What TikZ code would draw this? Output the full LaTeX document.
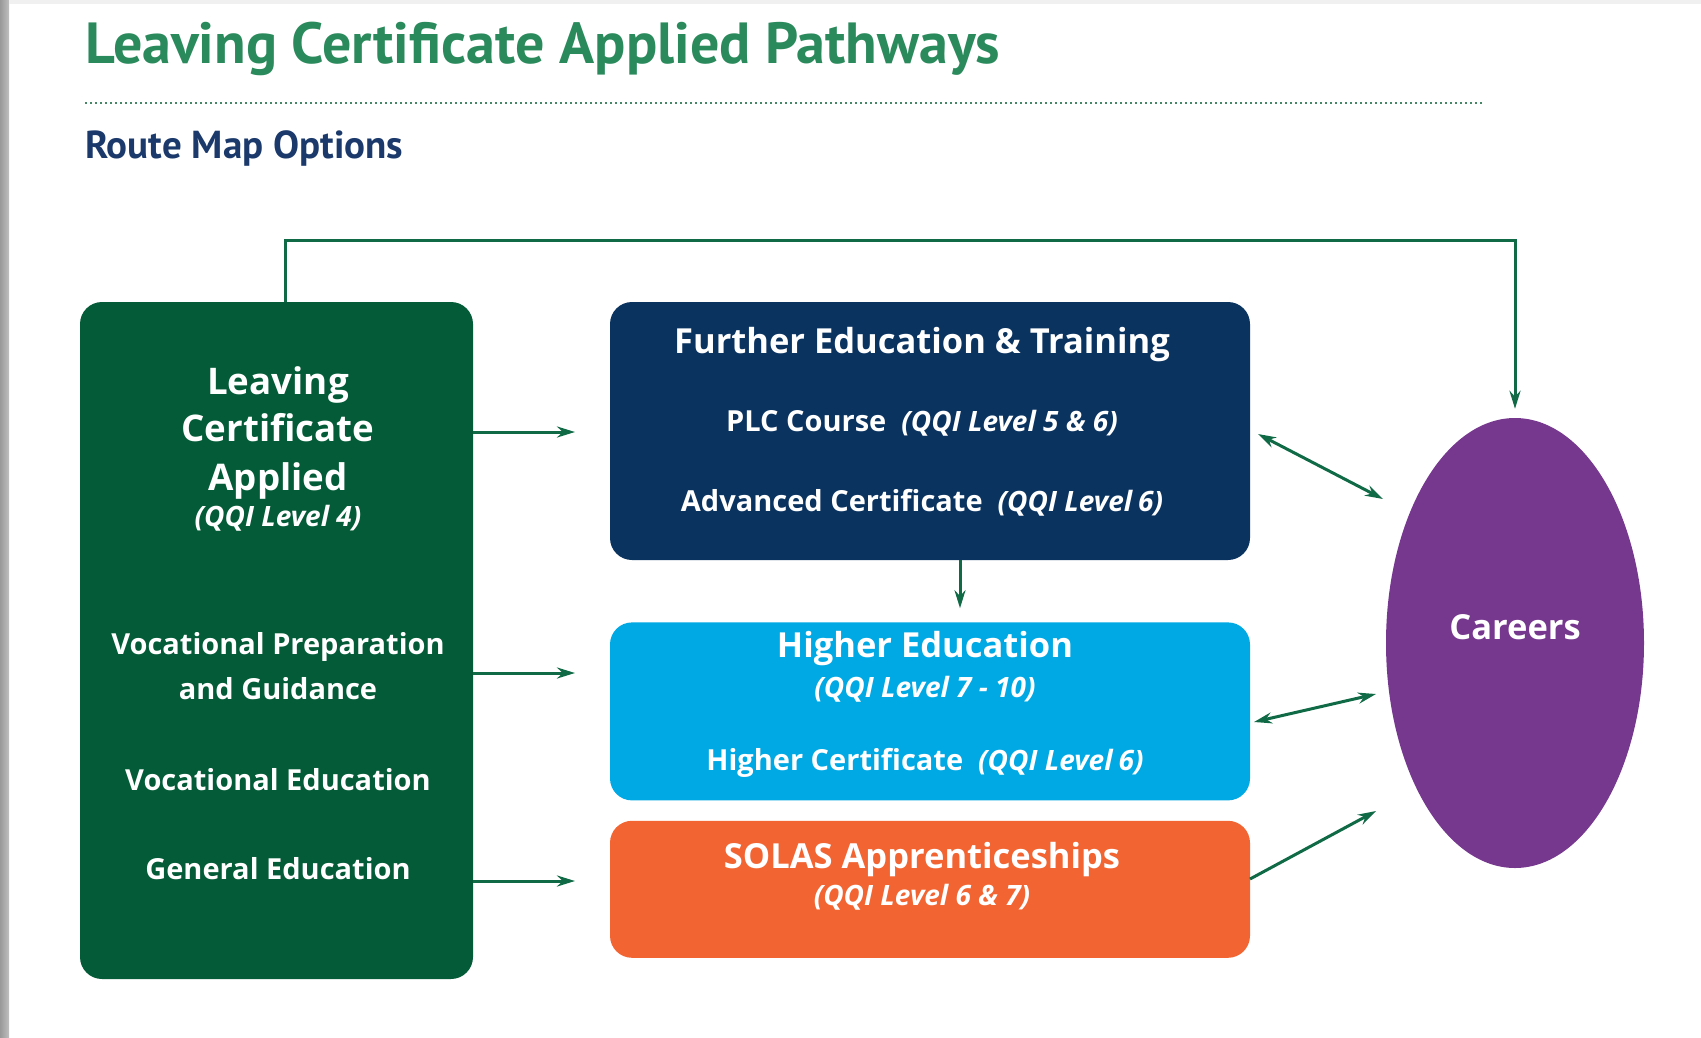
\documentclass[tikz,border=0pt]{standalone}
\usepackage{fontspec}
\setmainfont{Open Sans}
\newfontfamily\headfont{PT Sans}
\usepackage{tikz}
\usetikzlibrary{positioning}
\usetikzlibrary{shapes.geometric, arrows.meta}

\definecolor{titlegreen}{HTML}{2B8A5C}
\definecolor{subnavy}{HTML}{1B3A6B}
\definecolor{lcagreen}{HTML}{035B37}
\definecolor{fetnavy}{HTML}{0B3360}
\definecolor{heblue}{HTML}{00A8E4}
\definecolor{solasorange}{HTML}{F26532}
\definecolor{careerpurple}{HTML}{76378E}
\definecolor{arrowgreen}{HTML}{0F6A45}

\tikzstyle{arrow} = [line width=3pt,draw=arrowgreen,-{Stealth[length=18pt,width=11pt]}]
\tikzstyle{dblarrow} = [line width=3pt,draw=arrowgreen,{Stealth[length=18pt,width=11pt]}-{Stealth[length=18pt,width=11pt]}]
\tikzstyle{box} = [rectangle,rounded corners=22pt,inner sep=0pt,minimum width=640pt]
\tikzstyle{lbl} = [text=white,inner sep=0pt,anchor=base]

\newcommand{\head}{\fontsize{34.5}{40}\selectfont\bfseries}
\newcommand{\sub}{\fontsize{29}{34}\selectfont\bfseries}
\newcommand{\qqi}{\fontsize{28}{32}\selectfont\bfseries\itshape}

\begin{document}
\begin{tikzpicture}[x=1pt,y=-1pt]
	\useasboundingbox (0,0) rectangle (1701,1037);
	\shade[left color=gray!80,right color=gray!50] (0,0) rectangle (9,1037);
	\fill[gray!12] (9,0) rectangle (1701,4);

	%Heading
	\node (title) [anchor=base west,inner sep=0pt,text=titlegreen,font=\headfont\bfseries\fontsize{58}{66}\selectfont] at (85,63) {Leaving Certificate Applied Pathways};
	\coordinate (rulestart) at (85,103);
	\coordinate (ruleend) at (1484,103);
	\draw[titlegreen!70!gray,line width=2pt,dash pattern=on 2pt off 3pt] (rulestart) -- (ruleend);
	\node (routemap) [anchor=base west,inner sep=0pt,text=subnavy,font=\headfont\bfseries\fontsize{39}{44}\selectfont] at (85,158) {Route Map Options};

	%Nodes
	\node (lca) [box,fill=lcagreen,minimum width=393pt,minimum height=677pt] at (276.5,640.5) {};
	\node (fet) [box,fill=fetnavy,minimum height=258pt] at (930,431) {};
	\node (he) [box,fill=heblue,minimum height=178pt,below=62pt of fet] {};
	\node (solas) [box,fill=solasorange,minimum height=137pt,below=20pt of he] {};
	\node (careers) [ellipse,fill=careerpurple,minimum width=258pt,minimum height=450pt,inner sep=0pt] at (1515,643) {};

	%Texts
	\node (lcaa) [lbl,font=\fontsize{36.7}{42}\selectfont\bfseries] at (278,394) {Leaving};
	\node (lcab) [lbl,font=\fontsize{36.7}{42}\selectfont\bfseries] at (278,441) {Certificate};
	\node (lcac) [lbl,font=\fontsize{36.7}{42}\selectfont\bfseries] at (278,490) {Applied};
	\node (lcad) [lbl,font=\qqi] at (278,526) {(QQI Level 4)};
	\node (vpga) [lbl,font=\sub] at (278,654) {Vocational Preparation};
	\node (vpgb) [lbl,font=\sub] at (278,699) {and Guidance};
	\node (voced) [lbl,font=\sub] at (278,790) {Vocational Education};
	\node (gened) [lbl,font=\sub] at (278,879) {General Education};

	\node (feta) [lbl,font=\head] at (922,353) {Further Education \& Training};
	\node (fetb) [lbl,font=\sub] at (922,431) {PLC Course\hspace{15pt}{\qqi(QQI Level 5 \& 6)}};
	\node (fetc) [lbl,font=\sub] at (922,511) {Advanced Certificate\hspace{15pt}{\qqi(QQI Level\hspace{6pt}6)}};

	\node (hea) [lbl,font=\head] at (925,657) {Higher Education};
	\node (heb) [lbl,font=\qqi] at (925,697) {(QQI Level 7 - 10)};
	\node (hec) [lbl,font=\sub] at (925,770) {Higher Certificate\hspace{15pt}{\qqi(QQI Level\hspace{6pt}6)}};

	\node (solasa) [lbl,font=\head] at (922,868) {SOLAS Apprenticeships};
	\node (solasb) [lbl,font=\qqi] at (922,905) {(QQI Level 6 \& 7)};

	\node (careerstxt) [lbl,font=\head] at (1515,639) {Careers};

	%Lines
	\coordinate (a1) at (575,432);
	\coordinate (a2) at (575,673);
	\coordinate (a3) at (575,881);
	\draw[arrow] (lca.east |- a1) -- (a1);
	\draw[arrow] (lca.east |- a2) -- (a2);
	\draw[arrow] (lca.east |- a3) -- (a3);
	\draw[arrow] (lca.north -| 285,0) |- (1515,240) -- (careers.north) [shorten >=9pt];
	\draw[arrow] (fet.south -| 960,0) -- (he.north -| 960,0) [shorten >=14pt];

	\coordinate (b1) at (1258,434);
	\coordinate (c1) at (1383,499);
	\coordinate (b2) at (1254,722);
	\coordinate (c2) at (1376,694);
	\coordinate (b3) at (1250,879);
	\coordinate (c3) at (1376,811);
	\draw[dblarrow] (b1) -- (c1);
	\draw[dblarrow] (b2) -- (c2);
	\draw[arrow] (b3) -- (c3);
\end{tikzpicture}
\end{document}
